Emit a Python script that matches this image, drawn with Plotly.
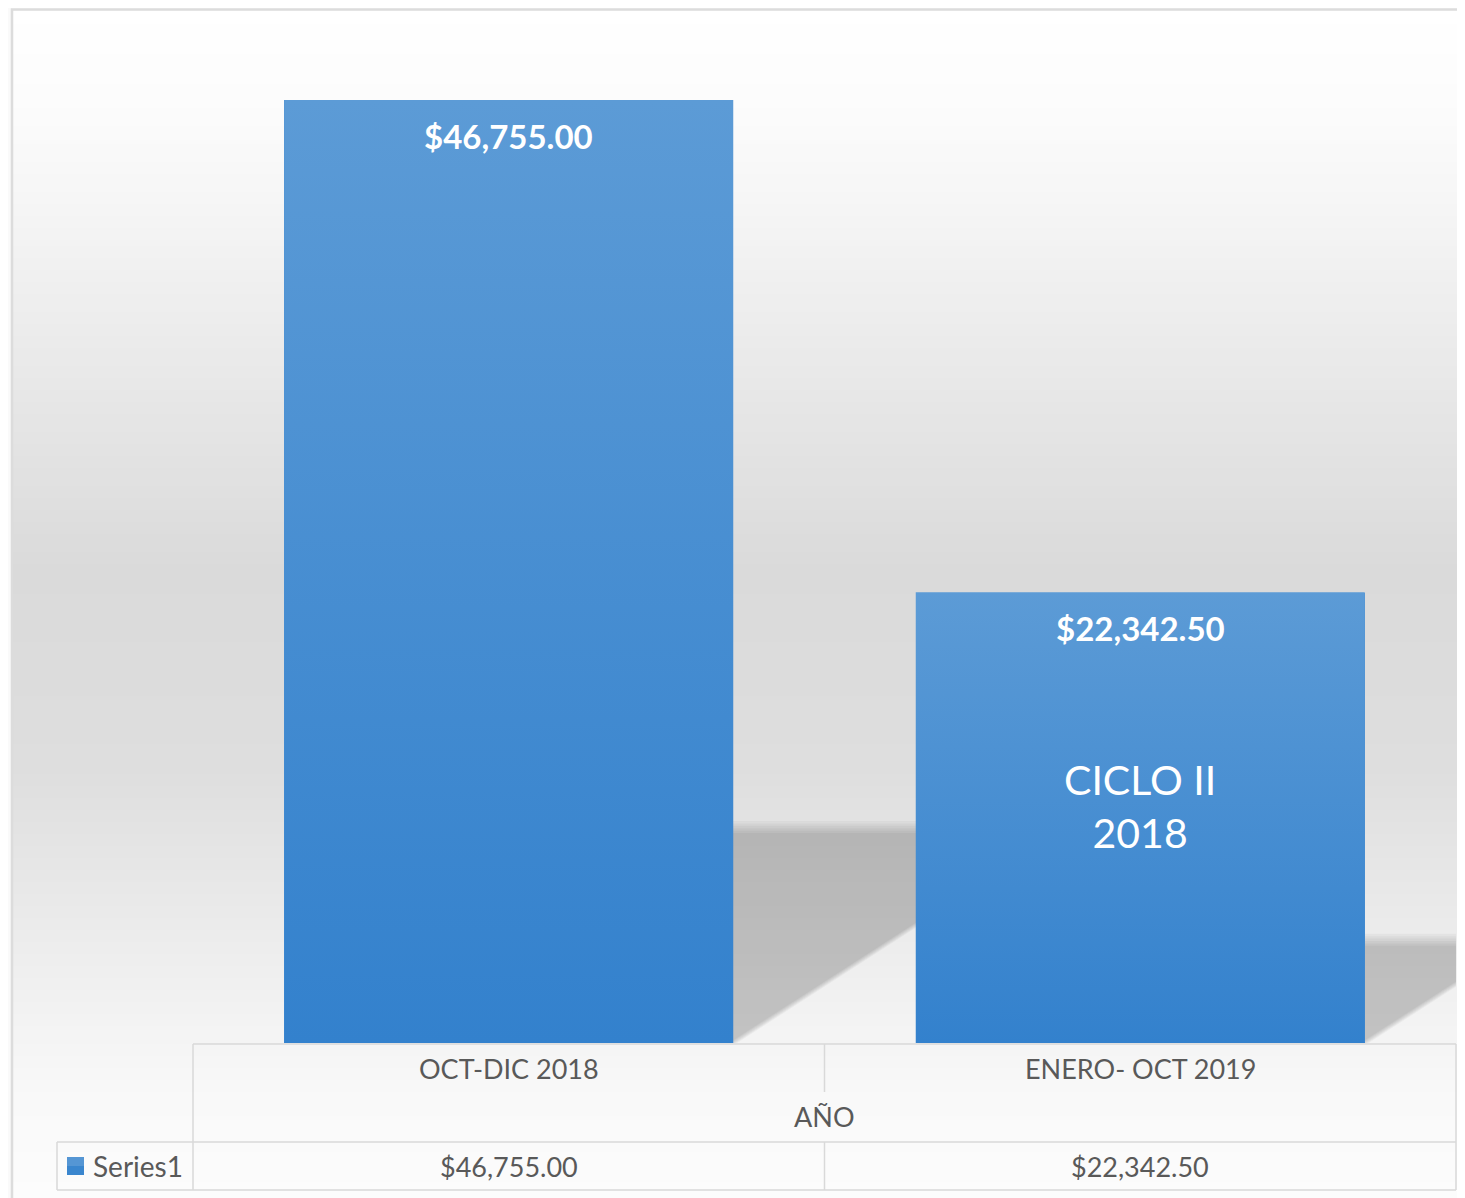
import plotly.graph_objects as go

# ---------------- data ----------------
categories = ["OCT-DIC 2018", "ENERO- OCT 2019"]
values = [46755.00, 22342.50]
series_name = "Series1"
axis_title = "AÑO"
note_lines = ["CICLO II", "2018"]

# ---------------- geometry (page pixels; body margin offset applied) ----------------
OFF = 8                          # default body margin of the html page
W, H = 1465 - OFF, 1198 - OFF    # figure size
PX_L, PX_R = 193, 1456           # plot area left/right (page px)
PX_BASE = 1043                   # baseline (page px)
Y_MAX = 50000
PX_PER_UNIT = 943 / 46755        # vertical scale
PX_TOP = PX_BASE - Y_MAX * PX_PER_UNIT
X_RANGE = [-0.5, len(categories) - 0.5]
PX_PER_X = (PX_R - PX_L) / (X_RANGE[1] - X_RANGE[0])
BAR_W = 0.711

def fx(px):
    return (px - OFF) / W

def fy(py):
    return 1 - (py - OFF) / H

def xpx(xv):
    return PX_L + (xv - X_RANGE[0]) * PX_PER_X

xs = list(range(len(categories)))

fig = go.Figure()

# ---------------- background gradient ----------------
stops = [(6, 255), (100, 252), (170, 248), (370, 233), (570, 218),
         (770, 222), (970, 239), (1100, 249), (1198, 252)]

def gray_at(y):
    for (y0, g0), (y1, g1) in zip(stops[:-1], stops[1:]):
        if y0 <= y <= y1:
            t = (y - y0) / (y1 - y0)
            return g0 + (g1 - g0) * t
    return stops[-1][1]

shapes = []
step = 6
y = 6
while y < 1198:
    g = int(round(gray_at(y + step / 2)))
    shapes.append(dict(type="rect", xref="paper", yref="paper",
                       x0=fx(12), x1=fx(1470), y0=fy(min(y + step + 0.5, 1200)), y1=fy(y),
                       fillcolor=f"rgb({g},{g},{g})", line=dict(width=0), layer="below"))
    y += step

# frame border
shapes.append(dict(type="path", xref="paper", yref="paper",
                   path=f"M {fx(12)},{fy(1202)} L {fx(12)},{fy(9.5)} L {fx(1470)},{fy(9.5)}",
                   line=dict(color="#dcdcdc", width=2.5), layer="above"))

# ---------------- perspective shadows (derived from bar values) ----------------
SHADOW_SCALE = 0.229   # shadow height relative to bar height
SHADOW_SKEW = 1.55     # horizontal px per vertical px
n_layers = 6
alpha = 1 - (1 - 0.19) ** (1 / n_layers)
for xi, v in zip(xs, values):
    xl, xr = xi - BAR_W / 2, xi + BAR_W / 2
    hs_px = v * PX_PER_UNIT * SHADOW_SCALE
    for k in range(n_layers):
        d_top = k * 2.4 - 6
        d_r = k * 1.6 - 4
        top_px = hs_px - d_top
        top_u = top_px / PX_PER_UNIT
        dx_u = top_px * SHADOW_SKEW / PX_PER_X
        shift_u = d_r / PX_PER_X
        path = (f"M {xl},0 L {xr - shift_u},0 L {xr - shift_u + dx_u},{top_u} "
                f"L {xl + dx_u},{top_u} Z")
        shapes.append(dict(type="path", xref="x", yref="y", path=path,
                           fillcolor=f"rgba(0,0,0,{alpha:.4f})", line=dict(width=0),
                           layer="below"))

# ---------------- bars ----------------
fig.add_trace(go.Bar(x=xs, y=values, width=BAR_W, name=series_name,
                     marker=dict(color="#4a8fd2", line=dict(width=0)),
                     showlegend=False, hoverinfo="y"))
for xi, v in zip(xs, values):
    xl, xr = xi - BAR_W / 2, xi + BAR_W / 2
    fig.add_trace(go.Scatter(x=[xl, xr, xr, xl, xl], y=[0, 0, v, v, 0],
                             fill="toself", mode="none",
                             fillgradient=dict(type="vertical",
                                               colorscale=[[0, "#3381cd"], [1, "#5c9bd6"]]),
                             showlegend=False, hoverinfo="skip"))

# ---------------- annotations ----------------
FONT = "Lato, 'Open Sans', sans-serif"
annotations = []
for xi, v in zip(xs, values):
    annotations.append(dict(x=xi, y=v, xref="x", yref="y", yshift=-36,
                            xanchor="center", yanchor="middle",
                            text=f"<b>${v:,.2f}</b>", showarrow=False,
                            font=dict(family=FONT, size=33, color="white")))

annotations.append(dict(x=xs[1], xref="x", y=fy(806), yref="paper",
                        xanchor="center", yanchor="middle",
                        text="<br>".join(note_lines), showarrow=False,
                        font=dict(family=FONT, size=41, color="white"),
                        align="center"))

# ---------------- data table ----------------
LINE = dict(color="#d9d9d9", width=1.5)
mid_px = xpx(0.5)
row1_top, row2_top, table_bot = 1044, 1142, 1190
legend_left = 57

def hline(y, x0, x1):
    shapes.append(dict(type="line", xref="paper", yref="paper",
                       x0=fx(x0), x1=fx(x1), y0=fy(y), y1=fy(y), line=LINE))

def vline(x, y0, y1):
    shapes.append(dict(type="line", xref="paper", yref="paper",
                       x0=fx(x), x1=fx(x), y0=fy(y0), y1=fy(y1), line=LINE))

hline(row1_top, PX_L, PX_R)
hline(row2_top, legend_left, PX_R)
hline(table_bot, legend_left, PX_R)
vline(PX_L, row1_top, table_bot)
vline(PX_R, row1_top, table_bot)
vline(legend_left, row2_top, table_bot)
vline(mid_px, row1_top, 1092)
vline(mid_px, row2_top, table_bot)

TXT = dict(family=FONT, size=27, color="#595959")
for xi, cat, v in zip(xs, categories, values):
    annotations.append(dict(x=fx(xpx(xi)), y=fy(1068), xref="paper", yref="paper",
                            xanchor="center", yanchor="middle",
                            text=cat, showarrow=False, font=TXT))
    annotations.append(dict(x=fx(xpx(xi)), y=fy(1166), xref="paper", yref="paper",
                            xanchor="center", yanchor="middle",
                            text=f"${v:,.2f}", showarrow=False, font=TXT))
annotations.append(dict(x=fx(mid_px), y=fy(1116), xref="paper", yref="paper",
                        xanchor="center", yanchor="middle",
                        text=axis_title, showarrow=False, font=TXT))
annotations.append(dict(x=fx(91), y=fy(1166), xref="paper", yref="paper",
                        xanchor="left", yanchor="middle",
                        text=series_name, showarrow=False,
                        font=dict(family=FONT, size=28, color="#595959")))
# legend key
shapes.append(dict(type="rect", xref="paper", yref="paper",
                   x0=fx(67), x1=fx(84), y0=fy(1175), y1=fy(1166),
                   fillcolor="#3a86ce", line=dict(width=0)))
shapes.append(dict(type="rect", xref="paper", yref="paper",
                   x0=fx(67), x1=fx(84), y0=fy(1166), y1=fy(1157),
                   fillcolor="#5596d4", line=dict(width=0)))

fig.update_layout(
    width=W, height=H,
    margin=dict(l=0, r=0, t=0, b=0),
    paper_bgcolor="#fafafa",
    plot_bgcolor="rgba(0,0,0,0)",
    showlegend=False,
    bargap=0,
    xaxis=dict(domain=[fx(PX_L), fx(PX_R)], range=X_RANGE, visible=False, fixedrange=True),
    yaxis=dict(domain=[fy(PX_BASE), fy(PX_TOP)], range=[0, Y_MAX], visible=False, fixedrange=True),
    shapes=shapes,
    annotations=annotations,
)

fig.write_html("out.html")
